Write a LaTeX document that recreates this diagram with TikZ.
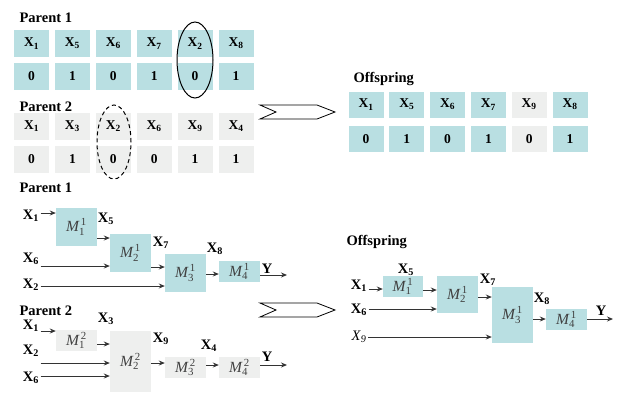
\documentclass[tikz,border=0pt]{standalone}
\usepackage{amsmath}
\usepackage{fontspec}
\setmainfont{Liberation Serif}
\usepackage{xcolor}
\usepackage{tikz}
\usetikzlibrary{positioning,arrows.meta}

\definecolor{cellteal}{HTML}{B9DFE2}
\definecolor{cellgrey}{HTML}{EEEFEE}
\definecolor{linegrey}{HTML}{333333}

\newcommand{\xvar}[1]{\textbf{X}\textsubscript{\textbf{#1}}}
\newcommand{\mblock}[2]{$\textit{M}^{\,\text{#1}}_{\text{#2}}$}

\begin{document}
\begin{tikzpicture}[x=1pt,y=-1pt,
	cella/.style={fill=cellteal,minimum width=35pt,minimum height=27pt,inner sep=0pt,font=\fontsize{13.5}{15}\selectfont\bfseries},
	cellb/.style={cella,fill=cellgrey},
	head/.style={anchor=base west,font=\fontsize{14.5}{16}\selectfont\bfseries},
	blka/.style={fill=cellteal,minimum width=41pt,inner sep=0pt,font=\fontsize{15.5}{17}\selectfont,text=black!75},
	blkb/.style={blka,fill=cellgrey},
	var/.style={inner sep=1.5pt,font=\fontsize{14.5}{16}\selectfont},
	flow/.style={-{Stealth[length=6pt,width=5pt]},line width=0.9pt,draw=linegrey}]
	\useasboundingbox (0,0) rectangle (618,392);

	% chromosomes as tables
	\node[head] at (16,22) {Parent 1};
	\foreach \lab/\val [count=\i] in {1/0,5/1,6/0,7/1,2/0,8/1} {
		\node[cella] (p1x\i) at ({31.5+40.9*(\i-1)},43.5) {\xvar{\lab}};
		\node[cella] (p1v\i) at ({31.5+40.9*(\i-1)},76) {\val};
	}
	\node[head] at (16,111) {Parent 2};
	\foreach \lab/\val [count=\i] in {1/0,3/1,2/0,6/0,9/1,4/1} {
		\node[cellb] (p2x\i) at ({31.5+40.9*(\i-1)},126) {\xvar{\lab}};
		\node[cellb] (p2v\i) at ({31.5+40.9*(\i-1)},159.5) {\val};
	}
	\draw[line width=1pt] (195,60) ellipse (18pt and 38pt);
	\draw[line width=1pt,dash pattern=on 4pt off 3pt] (114,142) ellipse (17pt and 37pt);

	\draw[line width=0.8pt,fill=white] (260,105) -- (317,105) -- (335,112) -- (317,119) -- (260,119) -- (276,112) -- cycle;

	\node[head] at (350,82.5) {Offspring};
	\foreach \lab/\val/\sty [count=\i] in {1/0/cella,5/1/cella,6/0/cella,7/1/cella,9/0/cellb,8/1/cella} {
		\node[\sty,minimum height=26pt] (ofx\i) at ({366+40.8*(\i-1)},104.5) {\xvar{\lab}};
		\node[\sty,minimum height=26pt] (ofv\i) at ({366+40.8*(\i-1)},139) {\val};
	}

	% chromosomes as model chains -- parent 1
	\node[head] at (16,192) {Parent 1};
	\node[blka,minimum height=38pt] (q1m1) at (76.5,227) {\mblock{1}{1}};
	\node[blka,minimum height=38pt] (q1m2) at (130.5,253) {\mblock{1}{2}};
	\node[blka,minimum height=38pt] (q1m3) at (185.5,273) {\mblock{1}{3}};
	\node[blka,minimum height=21pt] (q1m4) at (239.5,271.5) {\mblock{1}{4}};
	\node[var] (q1x1) at (31,216) {\xvar{1}};
	\node[var] (q1x6) at (31,259) {\xvar{6}};
	\node[var] (q1x2) at (31,285) {\xvar{2}};
	\node[var] (q1x5) at (106,219) {\xvar{5}};
	\node[var] (q1x7) at (161,243) {\xvar{7}};
	\node[var] (q1x8) at (215,249) {\xvar{8}};
	\node[var] (q1y) at (267,269) {\textbf{Y}};
	\coordinate (q1out) at (287,275);
	\draw[flow] (q1x1.east |- 0,213) -- (q1m1.west |- 0,213);
	\draw[flow] (q1m1.east |- 0,238) -- (q1m2.west |- 0,238);
	\draw[flow] (q1x6.east |- 0,266) -- (q1m2.west |- 0,266);
	\draw[flow] (q1m2.east |- 0,267) -- (q1m3.west |- 0,267);
	\draw[flow] (q1x2.east |- 0,286) -- (q1m3.west |- 0,286);
	\draw[flow] (q1m3.east |- 0,274) -- (q1m4.west |- 0,274);
	\draw[flow] (q1m4.east |- q1out) -- (q1out);

	% parent 2
	\node[head] at (16,315) {Parent 2};
	\node[blkb,minimum height=21pt] (q2m1) at (76.5,340.5) {\mblock{2}{1}};
	\node[blkb,minimum height=61pt] (q2m2) at (130.5,361.5) {\mblock{2}{2}};
	\node[blkb,minimum height=21pt] (q2m3) at (185.5,367.5) {\mblock{2}{3}};
	\node[blkb,minimum height=21pt] (q2m4) at (239.5,367.5) {\mblock{2}{4}};
	\node[var] (q2x3) at (106,319) {\xvar{3}};
	\node[var] (q2x1) at (31,326) {\xvar{1}};
	\node[var] (q2x2) at (31,351) {\xvar{2}};
	\node[var] (q2x6) at (31,378) {\xvar{6}};
	\node[var] (q2x9) at (161,339) {\xvar{9}};
	\node[var] (q2x4) at (209,346) {\xvar{4}};
	\node[var] (q2y) at (267,357) {\textbf{Y}};
	\coordinate (q2out) at (287,365);
	\draw[flow] (q2x1.east |- 0,331) -- (q2m1.west |- 0,331);
	\draw[flow] (q2m1.east |- 0,344) -- (q2m2.west |- 0,344);
	\draw[flow] (q2x2.east |- 0,363) -- (q2m2.west |- 0,363);
	\draw[flow] (q2x6.east |- 0,376) -- (q2m2.west |- 0,376);
	\draw[flow] (q2m2.east |- 0,363) -- (q2m3.west |- 0,363);
	\draw[flow] (q2m3.east |- 0,365) -- (q2m4.west |- 0,365);
	\draw[flow] (q2m4.east |- q2out) -- (q2out);

	\draw[line width=0.8pt,fill=white] (260,303) -- (317,303) -- (335,310) -- (317,317) -- (260,317) -- (276,310) -- cycle;

	% offspring chain
	\node[head] at (343,245.5) {Offspring};
	\node[blka,minimum width=40pt,minimum height=21pt] (q3m1) at (403,286.5) {\mblock{1}{1}};
	\node[blka,minimum height=37pt] (q3m2) at (457.5,294.5) {\mblock{1}{2}};
	\node[blka,minimum height=56pt] (q3m3) at (512.5,315) {\mblock{1}{3}};
	\node[blka,minimum height=21pt] (q3m4) at (566.5,319.5) {\mblock{1}{4}};
	\node[var] (q3x5) at (406,270) {\xvar{5}};
	\node[var] (q3x1) at (359,286) {\xvar{1}};
	\node[var] (q3x6) at (359,310) {\xvar{6}};
	\node[var] (q3x9) at (359,337) {\textit{X}\textsubscript{\textit{9}}};
	\node[var] (q3x7) at (488,280) {\xvar{7}};
	\node[var] (q3x8) at (542,299) {\xvar{8}};
	\node[var] (q3y) at (601,311) {\textbf{Y}};
	\coordinate (q3out) at (613,319);
	\draw[flow] (q3x1.east |- 0,289) -- (q3m1.west |- 0,289);
	\draw[flow] (q3m1.east |- 0,290) -- (q3m2.west |- 0,290);
	\draw[flow] (q3x6.east |- 0,309) -- (q3m2.west |- 0,309);
	\draw[flow] (q3m2.east |- 0,297) -- (q3m3.west |- 0,297);
	\draw[flow] (q3x9.east |- 0,337) -- (q3m3.west |- 0,337);
	\draw[flow] (q3m3.east |- 0,319) -- (q3m4.west |- 0,319);
	\draw[flow] (q3m4.east |- q3out) -- (q3out);
\end{tikzpicture}
\end{document}
